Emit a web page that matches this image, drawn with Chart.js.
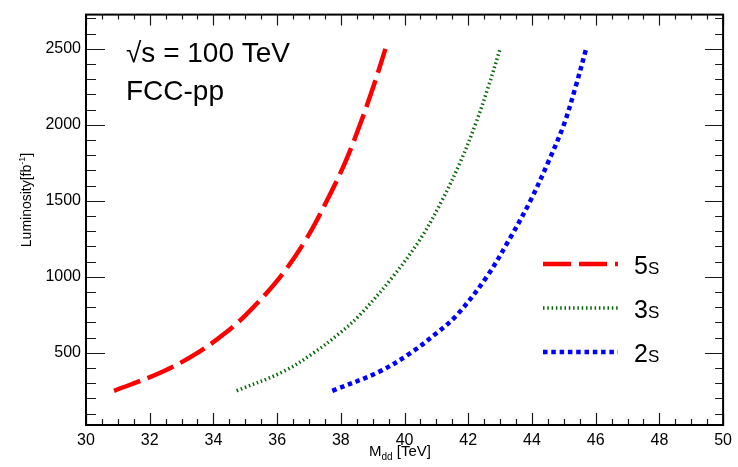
<!DOCTYPE html>
<html>
<head>
<meta charset="utf-8">
<script src="https://cdn.jsdelivr.net/npm/chart.js@4.4.1/dist/chart.umd.min.js"></script>
<style>
  html, body { margin: 0; padding: 0; background: #fff; }
  #wrap { width: 738px; height: 467px; }
</style>
</head>
<body>
<div id="wrap"><canvas id="lumiChart" width="738" height="467"></canvas></div>
<script>
const FONT = "'Liberation Sans', Arial, Helvetica, sans-serif";

/* luminosity points (fb^-1) and the dijet mass reach for each significance */
const lumi   = [250, 375, 500, 625, 750, 1000, 1250, 1500, 1750, 2000, 2250, 2500];
const mass5s = [30.88, 32.4, 33.5, 34.34, 35.02, 36.1, 36.92, 37.56, 38.13, 38.6, 39.02, 39.4];
const mass3s = [34.73, 36.18, 37.15, 37.94, 38.6, 39.63, 40.5, 41.17, 41.74, 42.22, 42.63, 43.0];
const mass2s = [37.73, 39.2, 40.2, 40.98, 41.65, 42.58, 43.3, 43.95, 44.5, 45.0, 45.37, 45.7];

const seriesLabels = ['5S', '3S', '2S'];

const xTicks = [30, 32, 34, 36, 38, 40, 42, 44, 46, 48, 50];
const yTicks = [500, 1000, 1500, 2000, 2500];
const xRange = [30, 50];
const yRange = [25, 2725];

function toPoints(xs) {
  return xs.map((x, i) => ({ x: x, y: lumi[i] }));
}

/* draw a run of [text, size, dy] pieces starting at x */
function drawRuns(ctx, runs, x, y) {
  runs.forEach(r => {
    ctx.font = r[1] + 'px ' + FONT;
    ctx.fillText(r[0], x, y + (r[2] || 0));
    x += ctx.measureText(r[0]).width;
  });
}
function runsWidth(ctx, runs) {
  let w = 0;
  runs.forEach(r => { ctx.font = r[1] + 'px ' + FONT; w += ctx.measureText(r[0]).width; });
  return w;
}

/* ROOT style frame: box plus inward ticks on all four sides */
const framePlugin = {
  id: 'frameTicks',
  afterDatasetsDraw(chart) {
    const { ctx, chartArea: a, scales } = chart;
    const xs = scales.x, ys = scales.y;
    ctx.save();
    ctx.strokeStyle = '#1a1a1a';
    ctx.lineWidth = 1.2;
    ctx.beginPath();
    for (let v = 30; v <= 50.001; v += 0.5) {
      const px = Math.round(xs.getPixelForValue(v)) + 0.5;
      const len = (Math.abs(v % 2) < 1e-6) ? 12 : 6;
      ctx.moveTo(px, a.bottom); ctx.lineTo(px, a.bottom - len);
      ctx.moveTo(px, a.top); ctx.lineTo(px, a.top + len - 1);
    }
    for (let v = 100; v <= 2700; v += 100) {
      const py = Math.round(ys.getPixelForValue(v)) + 0.5;
      const major = v % 500 === 0;
      ctx.moveTo(a.left, py); ctx.lineTo(a.left + (major ? 19 : 10), py);
      ctx.moveTo(a.right, py); ctx.lineTo(a.right - (major ? 18 : 8), py);
    }
    ctx.stroke();
    ctx.strokeStyle = '#000';
    ctx.lineWidth = 2;
    ctx.strokeRect(a.left, a.top, a.right - a.left, a.bottom - a.top);

    ctx.fillStyle = '#000';
    ctx.textBaseline = 'alphabetic';

    // axis titles
    const xt = [['M', 15, 0], ['dd', 10, 4], [' [TeV]', 15, 0]];
    drawRuns(ctx, xt, 400 - runsWidth(ctx, xt) / 2, 456);

    const yt = [['Luminosity[fb', 14, 0], ['-1', 9, -6], [']', 14, 0]];
    ctx.save();
    ctx.translate(31, 200);
    ctx.rotate(-Math.PI / 2);
    drawRuns(ctx, yt, -runsWidth(ctx, yt) / 2, 0);
    ctx.restore();

    // energy / collider labels
    ctx.font = '28px ' + FONT;
    ctx.fillText('\u221As = 100 TeV', 126, 62);
    ctx.fillText('FCC-pp', 126, 100);

    // legend
    chart.data.datasets.forEach((ds, i) => {
      const y = 264 + i * 44;
      ctx.save();
      ctx.strokeStyle = ds.borderColor;
      ctx.lineWidth = ds.borderWidth;
      ctx.setLineDash(ds.borderDash);
      ctx.beginPath();
      ctx.moveTo(543, y); ctx.lineTo(618, y);
      ctx.stroke();
      ctx.restore();
      const lab = ds.label;
      drawRuns(ctx, [[lab.slice(0, -1), 25, 0], [lab.slice(-1), 17, 0]], 634, y + 10);
    });
    ctx.restore();
  }
};

new Chart(document.getElementById('lumiChart'), {
  type: 'scatter',
  data: {
    datasets: [
      {
        label: seriesLabels[0],
        data: toPoints(mass5s),
        borderColor: '#ff0000',
        borderWidth: 4.5,
        borderDash: [28, 8],
        borderCapStyle: 'butt'
      },
      {
        label: seriesLabels[1],
        data: toPoints(mass3s),
        borderColor: '#086808',
        borderWidth: 3.5,
        borderDash: [1.5, 2.8],
        borderCapStyle: 'butt'
      },
      {
        label: seriesLabels[2],
        data: toPoints(mass2s),
        borderColor: '#0000ff',
        borderWidth: 4.5,
        borderDash: [4.5, 3.8],
        borderCapStyle: 'butt'
      }
    ].map(ds => Object.assign(ds, {
      showLine: true,
      pointRadius: 0,
      fill: false,
      tension: 0.35
    }))
  },
  options: {
    responsive: false,
    animation: false,
    layout: { padding: { top: 7, right: 11, left: 0, bottom: 0 } },
    plugins: {
      legend: { display: false },
      tooltip: { enabled: false }
    },
    scales: {
      x: {
        type: 'linear',
        min: xRange[0], max: xRange[1],
        afterBuildTicks: s => { s.ticks = xTicks.map(v => ({ value: v })); },
        afterFit: s => { s.height = 42; },
        grid: { display: false, drawTicks: false },
        border: { display: false },
        ticks: { color: '#000', font: { family: FONT, size: 16 }, padding: 6, maxRotation: 0,
                 callback: v => String(v) }
      },
      y: {
        type: 'linear',
        min: yRange[0], max: yRange[1],
        afterBuildTicks: s => { s.ticks = yTicks.map(v => ({ value: v })); },
        afterFit: s => { s.width = 86; },
        grid: { display: false, drawTicks: false },
        border: { display: false },
        ticks: { color: '#000', font: { family: FONT, size: 16 }, padding: 5,
                 callback: v => String(v) }
      }
    }
  },
  plugins: [framePlugin]
});
</script>
</body>
</html>
